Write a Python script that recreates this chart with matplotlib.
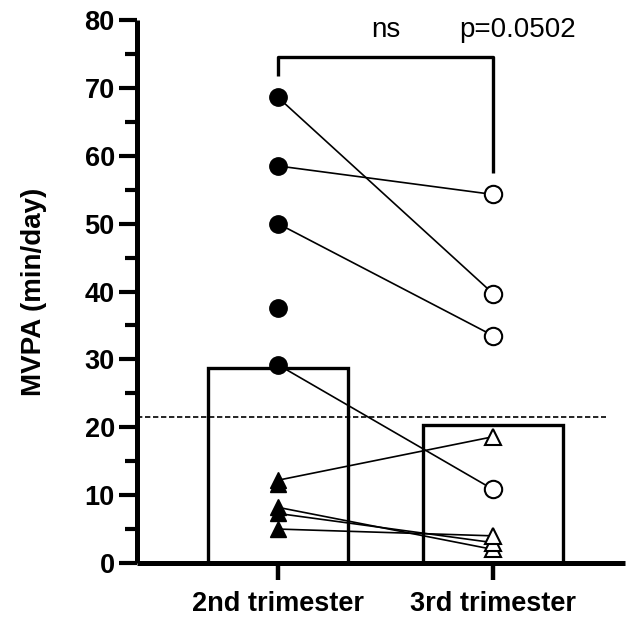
import numpy as np
import matplotlib
matplotlib.use("Agg")
import matplotlib.pyplot as plt
from matplotlib.ticker import MultipleLocator

plt.rcParams['font.family'] = ['Liberation Sans', 'DejaVu Sans']

categories = ["2nd trimester", "3rd trimester"]
bar_means = [28.7, 20.3]
reference_level = 21.5

# paired subjects (None = no measurement at that visit)
circle_2nd = [68.6, 58.5, 50.0, 37.5, 29.2]
circle_3rd = [39.7, 54.3, 33.5, None, 10.85]
triangle_2nd = [12.2, 11.6, 8.2, 7.3, 5.0]
triangle_3rd = [18.6, None, 2.0, 3.0, 4.0]

bracket_levels = [71.7, 74.6, 57.4]
labels_top = ["ns", "p=0.0502"]

fig = plt.figure(figsize=(6.26, 6.17), dpi=100)
ax = fig.add_axes([137 / 626, (617 - 563) / 617, (625 - 137) / 626, (563 - 20) / 617])

x = np.arange(len(categories))
ax.bar(x, bar_means, width=0.65, facecolor='white', edgecolor='black', linewidth=2.4, zorder=1)

ax.plot([-0.656, 1.526], [reference_level, reference_level], color='black',
        linestyle=(0, (3.2, 1.6)), linewidth=1.2, zorder=2)

for a, b in zip(circle_2nd + triangle_2nd, circle_3rd + triangle_3rd):
    if a is not None and b is not None:
        ax.plot(x, [a, b], color='black', linewidth=1.2, zorder=3)

ax.plot(np.full(len(circle_2nd), x[0]), circle_2nd, 'o', color='black', markersize=12.5,
        linestyle='none', zorder=4)
c3 = [v for v in circle_3rd if v is not None]
ax.plot(np.full(len(c3), x[1]), c3, 'o', markerfacecolor='white', markeredgecolor='black',
        markeredgewidth=1.5, markersize=12.5, linestyle='none', zorder=4)
ax.plot(np.full(len(triangle_2nd), x[0]), triangle_2nd, '^', color='black', markersize=12,
        linestyle='none', zorder=4)
t3 = [v for v in triangle_3rd if v is not None]
ax.plot(np.full(len(t3), x[1]), t3, '^', markerfacecolor='white', markeredgecolor='black',
        markeredgewidth=1.5, markersize=12, linestyle='none', zorder=4)

# significance bracket
ax.plot([x[0], x[0], x[1], x[1]],
        [bracket_levels[0], bracket_levels[1], bracket_levels[1], bracket_levels[2]],
        color='black', linewidth=2.4, solid_capstyle='butt', zorder=3, clip_on=False)
ax.text(0.5, 77.5, labels_top[0], ha='center', va='baseline', fontsize=20)
ax.text(1.116, 77.5, labels_top[1], ha='center', va='baseline', fontsize=20)

ax.set_xlim(-0.656, 1.614)
ax.set_ylim(0, 80)
ax.set_xticks(x)
ax.set_xticklabels(categories, fontsize=19.5, fontweight='bold')
ax.yaxis.set_major_locator(MultipleLocator(10))
ax.yaxis.set_minor_locator(MultipleLocator(5))
for lab in ax.get_yticklabels():
    lab.set_fontweight('bold')
    lab.set_fontsize(19.5)
ax.set_ylabel("MVPA (min/day)", fontsize=20, fontweight='bold', labelpad=27)

for s in ['top', 'right']:
    ax.spines[s].set_visible(False)
for s in ['left', 'bottom']:
    ax.spines[s].set_linewidth(3.6)
    ax.spines[s].set_capstyle('butt')

ax.tick_params(axis='y', which='major', length=13, width=3, direction='out', pad=3)
ax.tick_params(axis='y', which='minor', length=8.5, width=3, direction='out')
ax.tick_params(axis='x', which='major', length=12, width=3.2, direction='out', pad=8)

fig.savefig("out.png", dpi=100)
